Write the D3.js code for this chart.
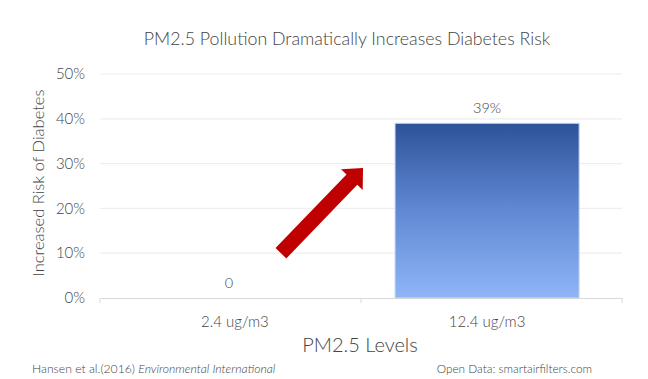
<!DOCTYPE html>
<html>
<head>
<meta charset="utf-8">
<script src="https://cdn.jsdelivr.net/npm/d3@7"></script>
<style>
  body { margin: 0; background: #fff; }
  text { font-family: Lato, "Open Sans", sans-serif; fill: #444444; font-weight: 300; }
</style>
</head>
<body>
<svg id="chart" width="648" height="379"></svg>
<script>
// chart data
let categories = ["2.4 ug/m3", "12.4 ug/m3"];
let riskValues = [0, 0.39];
let valueLabels = ["0", "39%"];
let yTicks = [0, 0.1, 0.2, 0.3, 0.4, 0.5];

let margin = {left: 100, right: 26, top: 74, bottom: 81};
let width = 648, height = 379;
let plotMid = margin.left + (width - margin.left - margin.right) / 2;

let svg = d3.select("#chart");

let x = d3.scaleBand()
  .domain(categories)
  .range([margin.left, width - margin.right])
  .paddingInner(0.27)
  .paddingOuter(0.17);

let y = d3.scaleLinear()
  .domain([0, 0.5])
  .range([height - margin.bottom, margin.top]);

// gradient for the bar
let defs = svg.append("defs");
let grad = defs.append("linearGradient")
  .attr("id", "barGrad")
  .attr("x1", 0).attr("y1", 0).attr("x2", 0).attr("y2", 1);
grad.append("stop").attr("offset", "0%").attr("stop-color", "#2d5298");
grad.append("stop").attr("offset", "50%").attr("stop-color", "#6189d4");
grad.append("stop").attr("offset", "100%").attr("stop-color", "#8fb5f6");

// gridlines
svg.append("g")
  .selectAll("line")
  .data(yTicks.slice(1))
  .join("line")
  .attr("x1", margin.left)
  .attr("x2", width - margin.right)
  .attr("y1", d => y(d))
  .attr("y2", d => y(d))
  .style("stroke", "#eeeeee")
  .style("stroke-width", 1.2);

// y tick labels
svg.append("g")
  .selectAll("text")
  .data(yTicks)
  .join("text")
  .attr("x", margin.left - 15)
  .attr("y", d => y(d))
  .attr("dy", "0.35em")
  .style("text-anchor", "end")
  .style("font-size", "15px")
  .text(d => d3.format(".0%")(d));

// bars
svg.append("g")
  .selectAll("rect")
  .data(riskValues)
  .join("rect")
  .attr("x", (d, i) => x(categories[i]))
  .attr("y", d => y(d))
  .attr("width", x.bandwidth())
  .attr("height", d => y(0) - y(d))
  .style("fill", "url(#barGrad)")
  .style("stroke", "#c5d7f5")
  .style("stroke-width", 1);

// value labels
svg.append("g")
  .selectAll("text")
  .data(riskValues)
  .join("text")
  .attr("x", (d, i) => x(categories[i]) + x.bandwidth() / 2 - (d === 0 ? 6 : 0))
  .attr("y", d => y(d) - 10)
  .style("text-anchor", "middle")
  .style("font-size", "14.5px")
  .text((d, i) => valueLabels[i]);

// x axis
let xAxis = d3.axisBottom(x).tickSize(0).tickPadding(18);
let axisG = svg.append("g")
  .attr("transform", "translate(0," + y(0) + ")")
  .call(xAxis);
axisG.select(".domain").style("stroke", "#d9d9d9").style("stroke-width", 1.2);
axisG.selectAll("text")
  .style("font-size", "15px")
  .style("font-family", "Lato, sans-serif")
  .style("font-weight", 300)
  .style("fill", "#444444");

// category boundary ticks
let bounds = [margin.left, plotMid, width - margin.right];
axisG.selectAll(".sep")
  .data(bounds)
  .join("line")
  .attr("x1", d => d).attr("x2", d => d)
  .attr("y1", 0).attr("y2", 5)
  .style("stroke", "#d9d9d9");

// arrow
let arrowStart = [x(categories[0]) + x.bandwidth() * 0.75, y(0.1)];
let arrowEnd = [plotMid + 2, y(0.29)];
let dx = arrowEnd[0] - arrowStart[0], dy = arrowEnd[1] - arrowStart[1];
let len = Math.sqrt(dx * dx + dy * dy);
let ang = Math.atan2(dy, dx) * 180 / Math.PI;
let shaft = 7.5, headW = 15, headL = 16;
svg.append("path")
  .attr("transform", "translate(" + arrowStart[0] + "," + arrowStart[1] + ")rotate(" + ang + ")")
  .attr("d", "M0," + (-shaft) + "L" + (len - headL) + "," + (-shaft) + "L" + (len - headL) + "," + (-headW) +
    "L" + len + ",0L" + (len - headL) + "," + headW + "L" + (len - headL) + "," + shaft + "L0," + shaft + "Z")
  .style("fill", "#c00000");

// title
svg.append("text")
  .attr("x", 347)
  .attr("y", 45)
  .style("text-anchor", "middle")
  .style("font-size", "17.8px")
  .text("PM2.5 Pollution Dramatically Increases Diabetes Risk");

// axis titles
svg.append("text")
  .attr("transform", "translate(44," + ((y(0) + y(0.5)) / 2 - 3) + ")rotate(-90)")
  .style("text-anchor", "middle")
  .style("font-size", "16.5px")
  .text("Increased Risk of Diabetes");

svg.append("text")
  .attr("x", 360)
  .attr("y", 352)
  .style("text-anchor", "middle")
  .style("font-size", "20px")
  .text("PM2.5 Levels");

// footer
let foot = svg.append("text")
  .attr("x", 32)
  .attr("y", 373)
  .style("font-size", "12.2px");
foot.append("tspan").text("Hansen et al.(2016) ");
foot.append("tspan").style("font-style", "italic").text("Environmental International");

svg.append("text")
  .attr("x", 592)
  .attr("y", 373)
  .style("text-anchor", "end")
  .style("font-size", "11.8px")
  .text("Open Data: smartairfilters.com");
</script>
</body>
</html>
